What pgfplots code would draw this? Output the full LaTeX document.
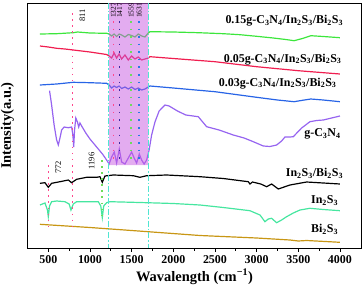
\documentclass[border=0pt]{standalone}
\usepackage{pgfplots}
\pgfplotsset{compat=1.18}
\usepackage{fontspec}
\setmainfont{Liberation Serif}
\definecolor{cG}{RGB}{60,230,60}
\definecolor{cR}{RGB}{240,30,80}
\definecolor{cB}{RGB}{40,100,230}
\definecolor{cP}{RGB}{150,100,240}
\definecolor{cC}{RGB}{70,230,160}
\definecolor{cY}{RGB}{200,150,20}
\definecolor{cDD}{RGB}{80,230,210}
\definecolor{cPink}{RGB}{255,70,140}
\definecolor{cNavy}{RGB}{60,40,160}
\definecolor{cGd}{RGB}{110,220,90}
\definecolor{cBd}{RGB}{40,120,230}
\definecolor{cShade}{RGB}{200,90,225}
\begin{document}
\begin{tikzpicture}
\begin{axis}[
  scale only axis, width=334.4bp, height=245.3bp,
  xmin=248, xmax=4261, ymin=3, ymax=248.3, y dir=reverse,
  xtick={500,1000,...,4000}, minor x tick num=1,
  ytick=\empty, xtick pos=left, tick align=outside,
  major tick length=3.5bp, minor tick length=2.5bp,
  axis line style={line width=0.8pt},
  every tick/.style={black, line width=0.8pt},
  /pgf/number format/assume math mode=true,
  /pgf/number format/1000 sep={},
  ticklabel style={font=\fontsize{12}{13}\selectfont\bfseries},
  xlabel={Wavalength (cm\textsuperscript{−1})},
  ylabel={Intensity(a.u.)},
  label style={font=\fontsize{14.5}{16}\selectfont\bfseries},
  xlabel style={at={(axis description cs:0.5,-0.1158)}, anchor=center},
  ylabel style={at={(axis description cs:-0.0598,0.5)}, anchor=center},
  every axis plot/.append style={line width=1.2pt},
]
% 0.15 g-C3N4
\addplot[cG] coordinates {(400,34)(600,33.7)(800,32.7)(850,32)(1000,33)(1200,33.3)(1230,34)(1260,36)(1290,34)(1320,36.5)(1350,34)(1380,35)(1420,37)(1460,34.5)(1500,35.5)(1540,37)(1580,34)(1620,36)(1660,37)(1700,33)(1720,31.7)(2000,32)(2300,32.7)(2600,33.7)(2800,34.7)(3000,36.3)(3200,38)(3350,39.5)(3450,40.7)(3550,38.5)(3650,35.7)(3800,36.5)(4000,37.7)};
% 0.05
\addplot[cR] coordinates {(400,46)(500,47)(600,48.3)(700,49)(800,50)(1000,52)(1200,54.5)(1230,56)(1260,58)(1290,53)(1320,58)(1350,54)(1380,59)(1420,55)(1460,60)(1500,56)(1540,59)(1580,57)(1620,60)(1660,59)(1700,58)(1720,56.7)(2000,58.5)(2500,61.7)(3000,66.7)(3500,70.7)(4000,74)};
% 0.03
\addplot[cB] coordinates {(400,85)(600,84)(800,82.3)(1000,82.7)(1200,83.3)(1230,85)(1260,88)(1290,86)(1320,87.5)(1350,86)(1380,88.5)(1420,87)(1460,89)(1500,87)(1540,89.5)(1580,88)(1620,90)(1660,89)(1700,87)(1720,86)(2000,88)(2500,91.7)(3000,97.3)(3250,100)(3450,101.7)(3550,100.3)(3650,99)(3800,100)(4000,101.7)};
% g-C3N4
\addplot[cP] coordinates {(515,90.7)(540,105)(570,125)(600,140)(620,145)(640,138)(660,130)(690,127)(740,127.7)(780,127)(795,135)(805,147)(815,130)(830,118)(850,122)(865,127)(880,123)(900,126)(950,133)(1000,139)(1050,144)(1100,149)(1150,154)(1200,160)(1230,164)(1260,157)(1292,152)(1320,163)(1352,149)(1380,162)(1420,164)(1460,158)(1500,152)(1530,158)(1560,163)(1592,154)(1620,160)(1650,164)(1680,160)(1710,150)(1740,135)(1780,122)(1830,111)(1900,105)(1950,106)(2050,111)(2150,115)(2300,116.7)(2400,126.7)(2550,130)(2720,135)(2850,138)(2960,141.7)(3080,146)(3160,146.5)(3240,145)(3300,141)(3340,137)(3400,137)(3440,136.7)(3540,128)(3640,121.7)(3720,120.5)(3800,120)(3900,118)(4000,116)};
% In2S3/Bi2S3
\addplot[black] coordinates {(400,183.3)(460,182.7)(500,187.3)(540,183.3)(640,181.7)(740,180)(780,182.7)(840,179.3)(960,177.3)(1080,177.3)(1120,176.7)(1148,182.3)(1180,176)(1280,175)(1520,175.7)(1600,177.3)(1680,175.7)(1920,175)(2320,176.7)(2600,178.5)(2900,181.7)(2920,184)(2950,182)(3050,184)(3120,186.7)(3180,184)(3260,189)(3400,185)(3600,182)(4000,184)};
% In2S3
\addplot[cC] coordinates {(400,205)(460,203)(490,210)(500,216.7)(515,206)(540,201.7)(600,201)(700,201.7)(750,204)(772,210)(800,204)(840,201.7)(1000,201.7)(1100,201.7)(1130,206)(1148,217.7)(1165,206)(1200,202.7)(1240,201.7)(1600,202.5)(2000,203.5)(2320,205)(2600,207.5)(2920,210.7)(3040,215)(3100,221.7)(3140,219)(3180,218.3)(3240,222.7)(3300,220)(3360,216.7)(3440,213)(3520,210)(3640,208.3)(3800,209.5)(4000,210.7)};
% Bi2S3
\addplot[cY] coordinates {(400,224.3)(1000,227.5)(1500,230.5)(2320,235.5)(3000,238)(3400,240)(3500,241)(3600,240.5)(4000,242.3)};
% shaded band
\addplot[draw=none, fill=cShade, fill opacity=0.5] coordinates {(1230,3)(1700,3)(1700,165)(1230,165)(1230,3)};
% dotted markers
\addplot[cPink, line width=1.6pt, dash pattern=on 1.6pt off 4.5pt] coordinates {(500,165)(500,227)};
\addplot[cPink, line width=1.6pt, dash pattern=on 1.6pt off 4.5pt] coordinates {(790,13)(790,228)};
\addplot[cGd, line width=1.6pt, dash pattern=on 1.6pt off 4.5pt] coordinates {(1143,160)(1143,218)};
\addplot[cPink, line width=1.6pt, dash pattern=on 1.6pt off 6pt] coordinates {(1282,21)(1282,163)};
\addplot[cNavy, line width=1.6pt, dash pattern=on 1.6pt off 6pt] coordinates {(1355,21)(1355,163)};
\addplot[cGd, line width=1.6pt, dash pattern=on 1.6pt off 6pt] coordinates {(1494,21)(1494,163)};
\addplot[cBd, line width=1.6pt, dash pattern=on 1.6pt off 6pt] coordinates {(1592,21)(1592,163)};
% dash-dot boundaries
\addplot[cDD, line width=1.3pt, dash pattern=on 6pt off 2pt on 1.5pt off 2pt] coordinates {(1220,3)(1220,248.3)};
\addplot[cDD, line width=1.3pt, dash pattern=on 6pt off 2pt on 1.5pt off 2pt] coordinates {(1702,3)(1702,248.3)};
% labels
\begin{scope}[every node/.style={font=\fontsize{12}{13}\selectfont\bfseries, inner sep=0pt}]
\node[anchor=east] at (axis cs:4040,20.7) {0.15g-C\textsubscript{3}N\textsubscript{4}/In\textsubscript{2}S\textsubscript{3}/Bi\textsubscript{2}S\textsubscript{3}};
\node[anchor=east] at (axis cs:4020,59.3) {0.05g-C\textsubscript{3}N\textsubscript{4}/In\textsubscript{2}S\textsubscript{3}/Bi\textsubscript{2}S\textsubscript{3}};
\node[anchor=east] at (axis cs:3960,83.3) {0.03g-C\textsubscript{3}N\textsubscript{4}/In\textsubscript{2}S\textsubscript{3}/Bi\textsubscript{2}S\textsubscript{3}};
\node[anchor=east] at (axis cs:4010,134) {g-C\textsubscript{3}N\textsubscript{4}};
\node[anchor=east] at (axis cs:4040,173.3) {In\textsubscript{2}S\textsubscript{3}/Bi\textsubscript{2}S\textsubscript{3}};
\node[anchor=east] at (axis cs:3980,200.7) {In\textsubscript{2}S\textsubscript{3}};
\node[anchor=east] at (axis cs:3980,229.3) {Bi\textsubscript{2}S\textsubscript{3}};
\end{scope}
\begin{scope}[every node/.style={font=\fontsize{8.5}{9}\selectfont, inner sep=0pt, rotate=90}]
\node at (axis cs:910,15.8) {811};
\node at (axis cs:620,167.5) {772};
\node at (axis cs:1020,161) {1196};
\end{scope}
\begin{scope}[every node/.style={font=\fontsize{7.5}{8}\selectfont, inner sep=0pt, rotate=90}]
\node at (axis cs:1282,10.5) {1327};
\node at (axis cs:1355,10.5) {1417};
\node at (axis cs:1494,10.5) {1559};
\node at (axis cs:1592,10.5) {1631};
\end{scope}
\end{axis}
\pgfresetboundingbox
\useasboundingbox ([shift={(-27.3bp,-37.7bp)}]current axis.south west) rectangle ([shift={(1.3bp,3bp)}]current axis.north east);
\end{tikzpicture}
\end{document}
